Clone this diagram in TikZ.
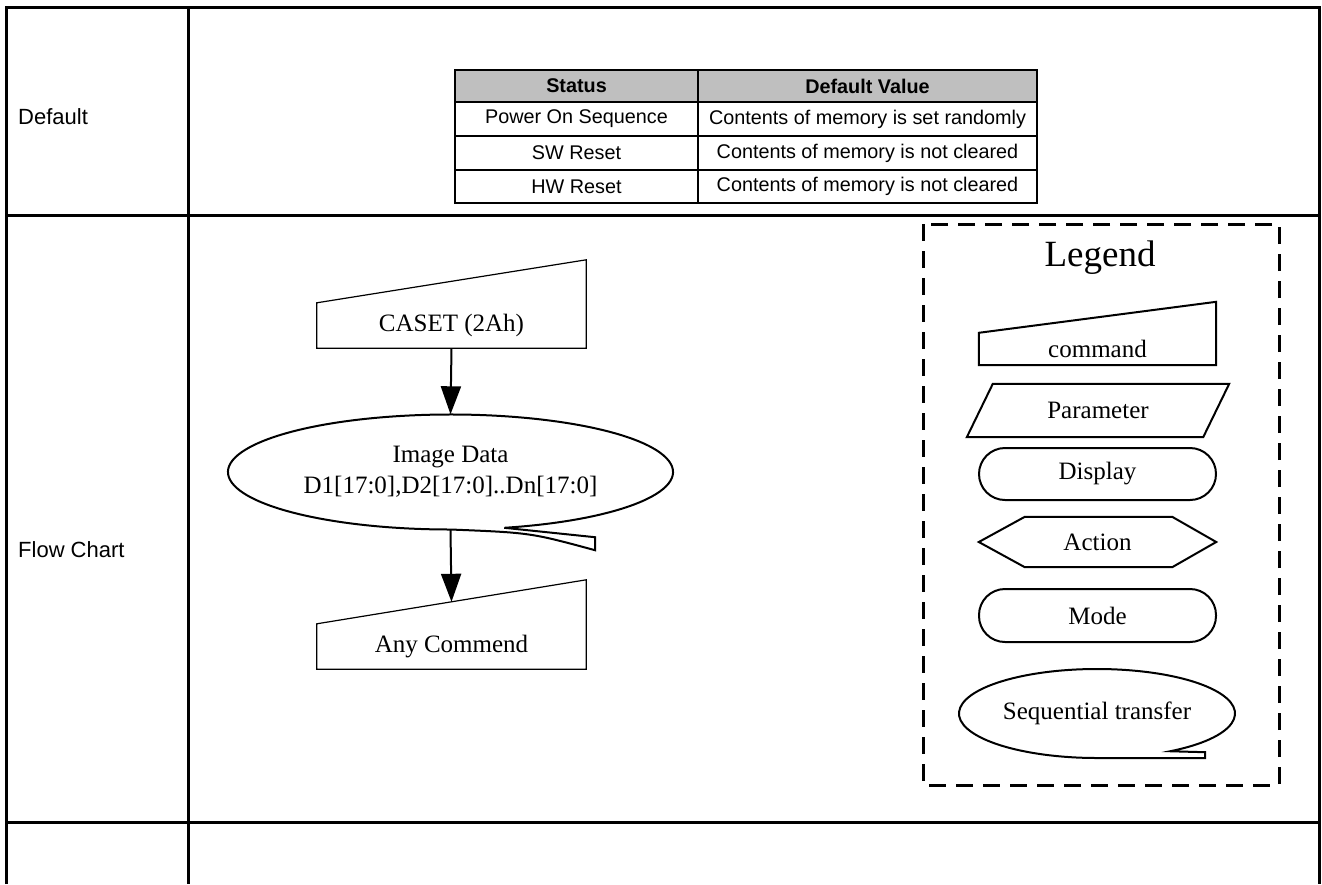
\documentclass[tikz,border=0pt]{standalone}
\usepackage{fontspec}
\setmainfont{Liberation Serif}
\setsansfont{Liberation Sans}
\usetikzlibrary{calc,shapes.geometric,arrows.meta,positioning}

\begin{document}
\begin{tikzpicture}[x=1pt,y=-1pt,
    frame/.style={line width=3pt},
    rowlabel/.style={anchor=west,inner sep=0pt,font=\sffamily\fontsize{22}{26}\selectfont},
    cell/.style={inner sep=0pt,font=\sffamily\fontsize{19.8}{24}\selectfont},
    flowtxt/.style={inner sep=0pt,font=\fontsize{25}{31}\selectfont},
    flowline/.style={line width=1.2pt},
    legline/.style={line width=2pt},
    flowarrow/.style={line width=2pt,-{Triangle[length=28pt,width=20pt]}}]
    \useasboundingbox (0,0) rectangle (1322,884);

    % outer table frame
    \draw[frame] (6,884) -- (6,7) -- (1319,7) -- (1319,884);
    \draw[frame] (188,7) -- (188,884);
    \draw[frame] (6,215) -- (1319,215);
    \draw[frame] (6,822) -- (1319,822);

    \node[rowlabel] (lbldefault) at (18,117) {Default};
    \node[rowlabel] (lblflow) at (18,550) {Flow Chart};

    % default value table
    \fill[black!25] (455,70) rectangle (1037,102);
    \draw[line width=1.8pt] (455,70) rectangle (1037,203);
    \draw[line width=1.8pt] (698,70) -- (698,203);
    \draw[line width=1.8pt] (455,102) -- (1037,102);
    \draw[line width=1.8pt] (455,136) -- (1037,136);
    \draw[line width=1.8pt] (455,170) -- (1037,170);

    \node[cell] (hstatus) at (576.5,86) {\bfseries Status};
    \node[cell] (hvalue) at (867.5,86) {\bfseries Default Value};
    \node[cell] (spower) at (576.5,119) {Power On Sequence};
    \node[cell] (vpower) at (867.5,119) {Contents of memory is set randomly};
    \node[cell] (ssw) at (576.5,153) {SW Reset};
    \node[cell] (vsw) at (867.5,153) {Contents of memory is not cleared};
    \node[cell] (shw) at (576.5,186.5) {HW Reset};
    \node[cell] (vhw) at (867.5,186.5) {Contents of memory is not cleared};

    % flow chart
    \node[flowtxt,minimum width=269pt,minimum height=45pt] (caset) at (451.5,325.5) {CASET (2Ah)};
    \draw[flowline] (caset.south west) -- (caset.north west) -- ($(caset.north east)+(0,-43)$) -- (caset.south east) -- cycle;

    \node[flowtxt,ellipse,align=center,minimum width=445pt,minimum height=115pt] (imgdata) at (450.5,472) {Image Data\\D1[17:0],D2[17:0]..Dn[17:0]};
    \draw[legline] ($(imgdata.center)+(76:222.5 and 57.5)$) arc[start angle=76,end angle=-270,x radius=222.5,y radius=57.5]
        .. controls ($(imgdata.south)+(80,3)$) .. ($(imgdata.south)+(144.5,20.5)$) -- ($(imgdata.south)+(144.5,7.5)$) -- cycle;

    \node[flowtxt,minimum width=269pt,minimum height=45pt] (any) at (451.5,646.5) {Any Commend};
    \draw[flowline] (any.south west) -- (any.north west) -- ($(any.north east)+(0,-44)$) -- (any.south east) -- cycle;
    \coordinate (anytop) at ($(any.north west)!0.5!(any.north east)+(0,-22)$);

    \draw[flowarrow] (caset.south) -- (imgdata.north);
    \draw[flowarrow] (imgdata.south) -- (anytop);

    % legend
    \draw[line width=3pt,dash pattern=on 17pt off 10pt] (923,224) rectangle (1279,785);
    \node[inner sep=0pt,font=\fontsize{37}{40}\selectfont] (legend) at (1100,258) {Legend};

    \node[flowtxt,minimum width=237pt,minimum height=32pt] (lcmd) at (1097.5,349) {command};
    \draw[legline] (lcmd.south west) -- (lcmd.north west) -- ($(lcmd.north east)+(0,-31)$) -- (lcmd.south east) -- cycle;

    \node[flowtxt,minimum width=236pt,minimum height=53pt] (lparam) at (1098,410.5) {Parameter};
    \draw[legline] ($(lparam.north west)+(13,0)$) -- ($(lparam.north east)+(13,0)$) -- ($(lparam.south east)+(-13,0)$) -- ($(lparam.south west)+(-13,0)$) -- cycle;

    \node[flowtxt,legline,draw,rounded corners=26pt,minimum width=237pt,minimum height=52pt] (ldisp) at (1097.5,474) {Display};

    \node[flowtxt,minimum width=237pt,minimum height=50pt] (laction) at (1097.5,542) {Action};
    \draw[legline] (laction.west) -- ($(laction.north west)+(46,0)$) -- ($(laction.north east)+(-44,0)$) -- (laction.east) -- ($(laction.south east)+(-44,0)$) -- ($(laction.south west)+(46,0)$) -- cycle;

    \node[flowtxt,legline,draw,rounded corners=26pt,minimum width=237pt,minimum height=53pt] (lmode) at (1097.5,615.5) {Mode};

    \node[flowtxt,ellipse,minimum width=276pt,minimum height=89pt] (lseq) at (1097,713.5) {Sequential transfer};
    \draw[legline] ($(lseq.center)+(58:138 and 44.5)$) arc[start angle=58,end angle=-270,x radius=138,y radius=44.5]
        -- ($(lseq.south)+(108,0)$) -- ($(lseq.south)+(108,-6)$) -- cycle;
\end{tikzpicture}
\end{document}
